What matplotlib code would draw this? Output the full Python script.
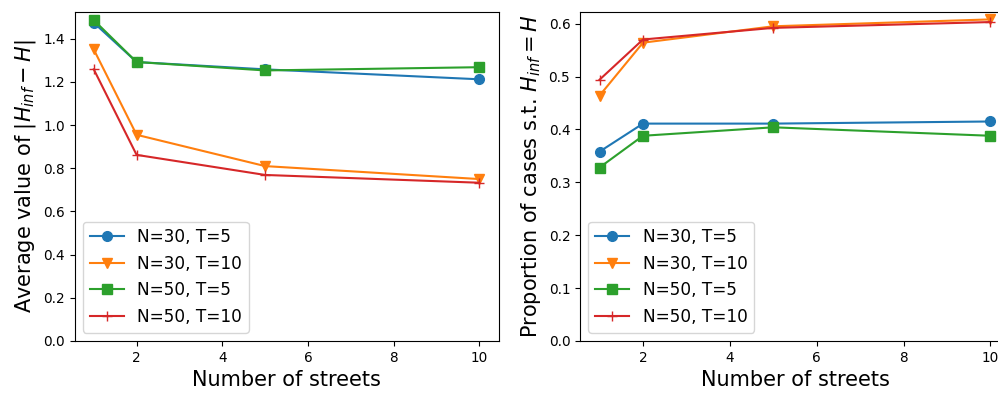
import matplotlib
matplotlib.use("Agg")
import matplotlib.pyplot as plt

streets = [1, 2, 5, 10]
labels = ["N=30, T=5", "N=30, T=10", "N=50, T=5", "N=50, T=10"]
markers = ["o", "v", "s", "+"]

# Average |H_inf - H|
avg_err_n30_t5 = [1.474, 1.292, 1.258, 1.212]
avg_err_n30_t10 = [1.350, 0.955, 0.810, 0.750]
avg_err_n50_t5 = [1.486, 1.292, 1.253, 1.268]
avg_err_n50_t10 = [1.258, 0.862, 0.769, 0.733]

# Proportion of exact recoveries
prop_n30_t5 = [0.358, 0.411, 0.411, 0.415]
prop_n30_t10 = [0.464, 0.564, 0.595, 0.608]
prop_n50_t5 = [0.328, 0.388, 0.404, 0.388]
prop_n50_t10 = [0.494, 0.570, 0.592, 0.603]

W, H = 998, 394
fig = plt.figure(figsize=(W / 100, H / 100), dpi=100)
ax1 = fig.add_axes([74.5 / W, (H - 341) / H, 424 / W, 329 / H])
ax2 = fig.add_axes([580 / W, (H - 341) / H, 430 / W, 329 / H])

left_series = [avg_err_n30_t5, avg_err_n30_t10, avg_err_n50_t5, avg_err_n50_t10]
right_series = [prop_n30_t5, prop_n30_t10, prop_n50_t5, prop_n50_t10]

for ax, series in ((ax1, left_series), (ax2, right_series)):
    for vals, lab, m in zip(series, labels, markers):
        ax.plot(streets, vals, marker=m, label=lab, markersize=7, linewidth=1.5)
    ax.set_ylim(bottom=0)
    ax.set_xlabel("Number of streets", fontsize=15)
    ax.tick_params(labelsize=9.8)
    ax.legend(loc="lower left", fontsize=12.2)

ax1.set_ylabel(r"Average value of $|H_{inf} - H|$", fontsize=15)
ax2.set_ylabel(r"Proportion of cases s.t. $H_{inf} = H$", fontsize=15)

fig.savefig("out.png", dpi=100)
